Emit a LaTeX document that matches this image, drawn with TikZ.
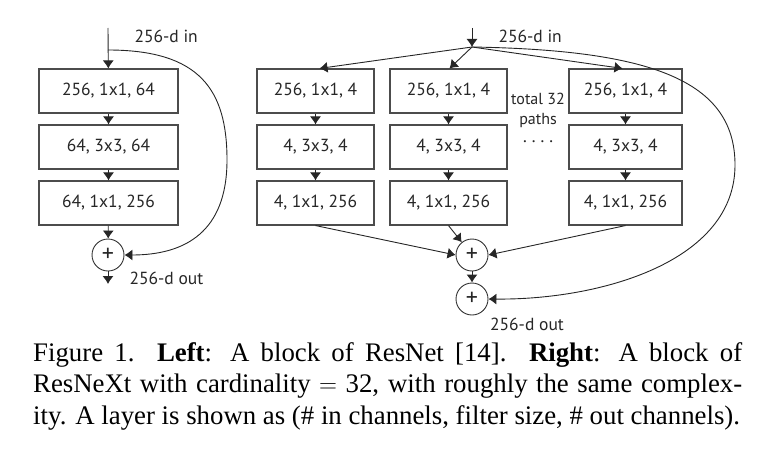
\documentclass[tikz,border=0pt]{standalone}
\usepackage{fontspec}
\setmainfont{Liberation Serif}
\newfontfamily\diagfont{PT Sans}
\usetikzlibrary{arrows.meta}

\begin{document}
\begin{tikzpicture}[x=1pt,y=-1pt,>={Latex[length=8pt,width=11pt]},
	every node/.style={font=\diagfont\fontsize{17.5}{20}\selectfont,text=black!85},
	layer/.style={draw=black!70,line width=1.1pt,minimum width=117pt,minimum height=44pt,inner sep=0pt},
	sum/.style={circle,draw=black!80,line width=0.9pt,minimum size=32pt,inner sep=0pt,
		font=\diagfont\fontsize{24}{24}\selectfont},
	flow/.style={->,line width=0.9pt,black!85}]
	\useasboundingbox (0,0) rectangle (757,452);

	% left: ResNet block
	\coordinate (in) at (108,28);
	\coordinate (split) at (108,50);
	\node[layer,minimum width=139pt] (1) at (108.5,91) {256, 1x1, 64};
	\node[layer,minimum width=139pt] (2) at (108.5,147) {64, 3x3, 64};
	\node[layer,minimum width=139pt] (3) at (108.5,203) {64, 1x1, 256};
	\node[sum] (s) at (108,255) {+};
	\coordinate (out) at (108,284);
	\node[anchor=west] (inlabel) at (131,36) {256-d in};
	\node[anchor=west] (outlabel) at (126,278) {256-d out};

	\path[flow]
		(in) edge (1)
		(1) edge (2)
		(2) edge (3)
		(3) edge (s)
		(s) edge (out);
	\draw[flow] (split) .. controls (200,50) and (227,90) .. (227,160)
		.. controls (227,232) and (185,255) .. (s.east);

	% right: ResNeXt block
	\coordinate (rin) at (472,28);
	\coordinate (rsplit) at (472,47);
	\node[layer] (p1a) at (315.5,91) {256, 1x1, 4};
	\node[layer] (p1b) at (315.5,147) {4, 3x3, 4};
	\node[layer] (p1c) at (315.5,203) {4, 1x1, 256};
	\node[layer] (p2a) at (448.5,91) {256, 1x1, 4};
	\node[layer] (p2b) at (448.5,147) {4, 3x3, 4};
	\node[layer] (p2c) at (448.5,203) {4, 1x1, 256};
	\node[layer,minimum width=113pt] (p3a) at (625.5,91) {256, 1x1, 4};
	\node[layer,minimum width=113pt] (p3b) at (625.5,147) {4, 3x3, 4};
	\node[layer,minimum width=113pt] (p3c) at (625.5,203) {4, 1x1, 256};
	\node[sum] (rs1) at (472,255) {+};
	\node[sum] (rs2) at (472,299) {+};
	\node[anchor=west] (rinlabel) at (495,36) {256-d in};
	\node (routlabel) at (527,324) {256-d out};
	\node[align=center,font=\diagfont\fontsize{16}{20}\selectfont] (paths) at (538,110) {total 32\\paths};
	\node (dots) at (538,142) {.\hspace{5pt}.\hspace{5pt}.\hspace{5pt}.};

	\path[flow]
		(rin) edge (rsplit)
		(rsplit)
			edge ([xshift=4pt]p1a.north)
			edge ([xshift=1pt]p2a.north)
			edge ([xshift=-3pt]p3a.north)
		(p1a) edge (p1b)
		(p1b) edge (p1c)
		(p2a) edge (p2b)
		(p2b) edge (p2c)
		(p3a) edge (p3b)
		(p3b) edge (p3c)
		(p1c.south) edge (rs1.west)
		(p2c.south) edge (rs1)
		(p3c.south) edge (rs1.east)
		(rs1) edge (rs2);
	\draw[flow] (rsplit) .. controls (650,50) and (735,80) .. (735,165)
		.. controls (735,262) and (600,300) .. (rs2.east);

	% caption
	\node[anchor=north west,inner sep=0pt,text width=709pt,align=justify,
		font=\rmfamily\fontsize{26.8}{31.5}\selectfont,text=black] (caption) at (33,342)
		{Figure 1. \textbf{Left}: A block of ResNet [14]. \textbf{Right}: A block of\linebreak
		ResNeXt with cardinality $=$ 32, with roughly the same complex-\linebreak
		ity. A layer is shown as (\# in channels, filter size, \# out channels).};
\end{tikzpicture}
\end{document}
